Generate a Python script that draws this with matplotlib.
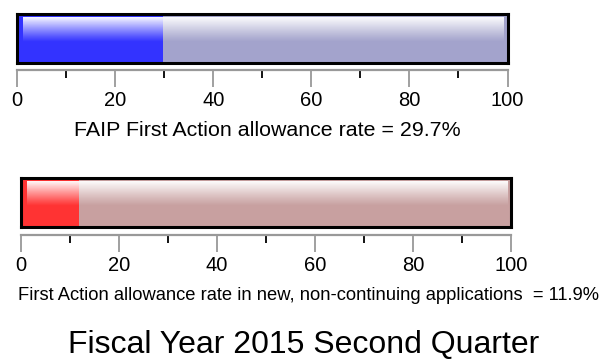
import numpy as np
import matplotlib
matplotlib.use("Agg")
import matplotlib.pyplot as plt

plt.rcParams['font.family'] = ['Liberation Sans', 'DejaVu Sans']

# ---- data ----
values = [29.7, 11.9]
scale_max = 100
fill_colors = ['#3333ff', '#ff3333']
back_colors = ['#a3a3cc', '#c8a0a0']
captions = ['FAIP First Action allowance rate = 29.7%',
            'First Action allowance rate in new, non-continuing applications  = 11.9%']
title = 'Fiscal Year 2015 Second Quarter'
major_ticks = [0, 20, 40, 60, 80, 100]
minor_ticks = [10, 30, 50, 70, 90]

W, H = 613, 362
fig = plt.figure(figsize=(W / 100, H / 100), dpi=100)

def fx(px):
    return px / W

def fy(py):
    return 1 - py / H

# layout in pixels: (left, right, box_top, box_bottom, axis_y, caption_x, caption_y, fontsize)
layouts = [
    (17.3, 507.5, 14, 63, 69.5, 267, 131, 15.4),
    (20.7, 511.0, 178, 227, 234.5, 309, 296, 13.2),
]

for val, fc, bc, cap, lay in zip(values, fill_colors, back_colors, captions, layouts):
    l, r, t, b, ay, cx, cy, fs = lay
    ax = fig.add_axes([fx(l), fy(b), fx(r) - fx(l), fy(t) - fy(b)])
    ax.set_xlim(0, scale_max)
    ax.set_ylim(0, 1)
    ax.barh(0.5, scale_max, height=1, color=bc, zorder=1)
    ax.barh(0.5, val, height=1, color=fc, zorder=2)
    # glossy highlight
    n = 64
    alpha = np.linspace(0.97, 0.0, n) ** 1.1
    grad = np.ones((n, 1, 4))
    grad[:, 0, 3] = alpha
    ax.imshow(grad, extent=(1.2, 99.2, 0.43, 0.94), aspect='auto', zorder=3,
              interpolation='bilinear')
    for s in ax.spines.values():
        s.set_linewidth(2.2)
        s.set_color('black')
        s.set_zorder(5)
    ax.set_xticks([])
    ax.set_yticks([])

    # scale axis below the box
    sx = fig.add_axes([fx(l), fy(ay), fx(r) - fx(l), 0.0001])
    sx.set_xlim(0, scale_max)
    sx.patch.set_visible(False)
    for k in ['top', 'left', 'right']:
        sx.spines[k].set_visible(False)
    sx.spines['bottom'].set_color('#999999')
    sx.spines['bottom'].set_linewidth(1.6)
    sx.set_yticks([])
    sx.set_xticks(major_ticks)
    sx.set_xticklabels([str(v) for v in major_ticks])
    sx.set_xticks(minor_ticks, minor=True)
    sx.tick_params(axis='x', which='major', direction='out', length=12.5,
                   width=1.3, color='#999999', pad=3.0, labelsize=14.5,
                   labelcolor='black')
    sx.tick_params(axis='x', which='minor', direction='out', length=5.5,
                   width=1.3, color='black')

    fig.text(fx(cx), fy(cy), cap, ha='center', va='center', fontsize=fs,
             color='black')

fig.text(fx(304), fy(345), title, ha='center', va='center', fontsize=23,
         color='black')

fig.savefig('out.png', dpi=100, facecolor='white')
